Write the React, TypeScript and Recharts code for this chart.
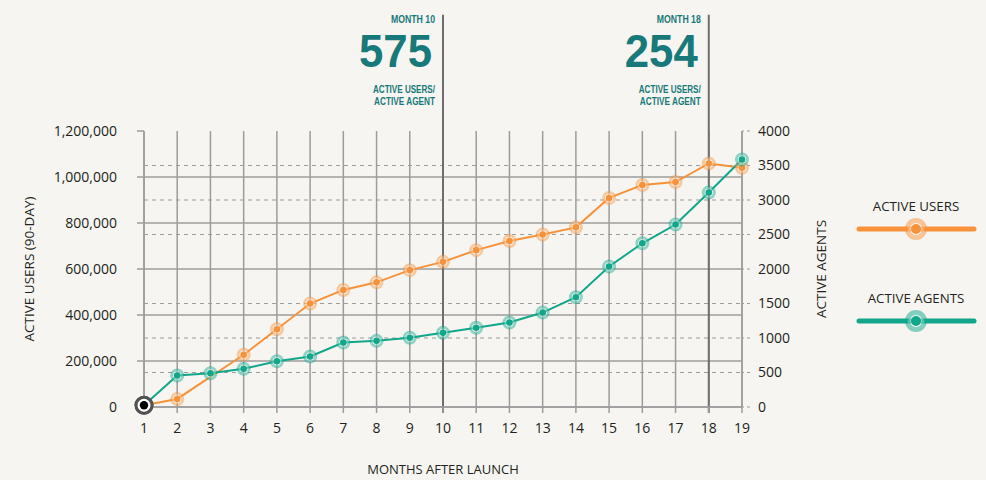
import React from 'react';
import { LineChart, Line, XAxis, YAxis, CartesianGrid, ReferenceLine, Legend } from 'recharts';

const months = [1, 2, 3, 4, 5, 6, 7, 8, 9, 10, 11, 12, 13, 14, 15, 16, 17, 18, 19];
const activeUsers = [8000, 35000, null, 227000, 338000, 450000, 509000, 542000, 595000, 631000, 682000, 722000, 750000, 781000, 909000, 965000, 978000, 1059000, 1040000];
const activeAgents = [25, 456, 490, 553, 664, 732, 935, 959, 1003, 1075, 1148, 1224, 1369, 1591, 2036, 2373, 2644, 3108, 3586];
const userTicks = [0, 200000, 400000, 600000, 800000, 1000000, 1200000];
const userGrid = [0, 200000, 400000, 600000, 800000, 1000000];
const agentTicks = [0, 500, 1000, 1500, 2000, 2500, 3000, 3500, 4000];
const agentGrid = [500, 1000, 1500, 2500, 3000, 3500];
const milestoneMonths = [10, 18];
const milestoneRatios = ['575', '254'];

const FONT = "'Open Sans', 'Noto Sans', sans-serif";
const NOTE_FONT = "'Liberation Sans', 'Open Sans', sans-serif";
const BG = '#f6f5f1';
const ORANGE = '#f7923a';
const GREEN = '#12a68b';
const TEAL = '#18797a';
const TEXT = '#231f20';
const GRID = '#9c9c9c';

const makeDot = (color: string, key: string) => (props: any) => {
  const { cx, cy, index, payload } = props;
  if (cx == null || cy == null || payload == null || payload[key] == null) return <g key={`${key}-e-${index}`} />;
  if (index === 0) {
    return (
      <g key={`${key}-s-${index}`}>
        <circle cx={cx} cy={cy} r={8} fill="#ffffff" stroke="#525252" strokeWidth={3} />
        <circle cx={cx} cy={cy} r={4.2} fill="#000000" />
      </g>
    );
  }
  return (
    <g key={`${key}-d-${index}`}>
      <circle cx={cx} cy={cy} r={5.5} fill="#ffffff" fillOpacity={0.45} stroke={color} strokeOpacity={0.45} strokeWidth={3} />
      <circle cx={cx} cy={cy} r={3.3} fill={color} />
    </g>
  );
};

const LeftTitle = (props: any) => {
  const vb = props.viewBox;
  const cx = vb.x + 29;
  const cy = vb.y + vb.height / 2;
  return (
    <text x={cx} y={cy} transform={`rotate(-90 ${cx} ${cy})`} textAnchor="middle" dominantBaseline="central" fontSize={13.5} fill={TEXT} fontFamily={FONT}>
      ACTIVE USERS (90-DAY)
    </text>
  );
};

const RightTitle = (props: any) => {
  const vb = props.viewBox;
  const cx = vb.x + 79;
  const cy = vb.y + vb.height / 2;
  return (
    <text x={cx} y={cy} transform={`rotate(-90 ${cx} ${cy})`} textAnchor="middle" dominantBaseline="central" fontSize={13.5} fill={TEXT} fontFamily={FONT}>
      ACTIVE AGENTS
    </text>
  );
};

const BottomTitle = (props: any) => {
  const vb = props.viewBox;
  return (
    <text x={vb.x + vb.width / 2} y={vb.y + 67} textAnchor="middle" fontSize={13} fill={TEXT} fontFamily={FONT}>
      MONTHS AFTER LAUNCH
    </text>
  );
};

const MilestoneLabel = (props: any) => {
  const { viewBox, month, ratio } = props;
  const x = viewBox.x;
  const y = viewBox.y;
  return (
    <g fill={TEAL} fontFamily={NOTE_FONT}>
      <text x={x - 52} y={y + 8} fontSize={10} fontWeight={700} textLength={44} lengthAdjust="spacingAndGlyphs">{`MONTH ${month}`}</text>
      <text x={x - 84} y={y + 52} fontSize={46} fontWeight={700} textLength={73} lengthAdjust="spacingAndGlyphs">{ratio}</text>
      <text x={x - 70} y={y + 78} fontSize={10} fontWeight={700} textLength={62} lengthAdjust="spacingAndGlyphs">ACTIVE USERS/</text>
      <text x={x - 69} y={y + 90} fontSize={10} fontWeight={700} textLength={61} lengthAdjust="spacingAndGlyphs">ACTIVE AGENT</text>
    </g>
  );
};

const LegendContent = () => {
  const items = [
    { name: 'ACTIVE USERS', color: ORANGE },
    { name: 'ACTIVE AGENTS', color: GREEN },
  ];
  return (
    <svg width={136} height={160} style={{ display: 'block' }}>
      {items.map((it, i) => {
        const base = i * 92;
        return (
          <g key={it.name}>
            <text x={66} y={base + 21} textAnchor="middle" fontSize={13.3} fill={TEXT} fontFamily={FONT}>{it.name}</text>
            <line x1={9} x2={124} y1={base + 39} y2={base + 39} stroke={it.color} strokeWidth={5} strokeLinecap="round" />
            <circle cx={66} cy={base + 39} r={8.5} fill="#ffffff" fillOpacity={0.5} stroke={it.color} strokeOpacity={0.5} strokeWidth={5} />
            <circle cx={66} cy={base + 39} r={5} fill={it.color} />
          </g>
        );
      })}
    </svg>
  );
};

export default function App() {
  const data = months.map((m, i) => ({ month: m, users: activeUsers[i], agents: activeAgents[i] }));
  const lineTop = 1705000;
  const lineBottom = -26000;
  return (
    <div style={{ position: 'absolute', left: 0, top: 0, width: 986, height: 480, background: BG, fontFamily: FONT }}>
      <LineChart width={986} height={480} data={data} margin={{ top: 131, right: 154, bottom: 0, left: 0 }}>
        <CartesianGrid yAxisId="left" stroke={GRID} strokeWidth={1.5} horizontalValues={userGrid} />
        <CartesianGrid yAxisId="right" vertical={false} stroke={GRID} strokeWidth={1.2} strokeDasharray="4 4" horizontalValues={agentGrid} />
        <XAxis
          dataKey="month"
          type="number"
          domain={[1, 19]}
          ticks={months}
          interval={0}
          height={73}
          tickSize={6}
          tickMargin={10}
          stroke={GRID}
          axisLine={{ stroke: GRID, strokeWidth: 1.5 }}
          tickLine={{ stroke: GRID, strokeWidth: 1.5 }}
          tick={{ fontSize: 14, fill: TEXT }}
          label={<BottomTitle />}
        />
        <YAxis
          yAxisId="left"
          domain={[0, 1200000]}
          ticks={userTicks}
          width={144}
          tickSize={7}
          tickMargin={20}
          axisLine={{ stroke: GRID, strokeWidth: 1.5 }}
          tickLine={{ stroke: GRID, strokeWidth: 1.5 }}
          tick={{ fontSize: 14, fill: TEXT }}
          tickFormatter={(v: number) => v.toLocaleString('en-US')}
          label={<LeftTitle />}
        />
        <YAxis
          yAxisId="right"
          orientation="right"
          domain={[0, 4000]}
          ticks={agentTicks}
          width={90}
          tickSize={8}
          tickMargin={8}
          axisLine={{ stroke: GRID, strokeWidth: 1.5 }}
          tickLine={{ stroke: GRID, strokeWidth: 1.2, strokeDasharray: '3 3' }}
          tick={{ fontSize: 14, fill: TEXT }}
          label={<RightTitle />}
        />
        {milestoneMonths.map((m, i) => (
          <ReferenceLine
            key={`ms-${m}`}
            yAxisId="left"
            segment={[{ x: m, y: lineBottom }, { x: m, y: lineTop }]}
            ifOverflow="visible"
            stroke="#6e6e6e"
            strokeWidth={2}
            label={<MilestoneLabel month={m} ratio={milestoneRatios[i]} />}
          />
        ))}
        <Legend
          layout="vertical"
          align="center"
          verticalAlign="middle"
          wrapperStyle={{ left: 850, top: 190, width: 136, height: 160 }}
          content={<LegendContent />}
        />
        <Line
          yAxisId="left"
          dataKey="users"
          stroke={ORANGE}
          strokeWidth={2}
          connectNulls
          isAnimationActive={false}
          dot={makeDot(ORANGE, 'users')}
          activeDot={false}
        />
        <Line
          yAxisId="right"
          dataKey="agents"
          stroke={GREEN}
          strokeWidth={2}
          isAnimationActive={false}
          dot={makeDot(GREEN, 'agents')}
          activeDot={false}
        />
      </LineChart>
    </div>
  );
}
